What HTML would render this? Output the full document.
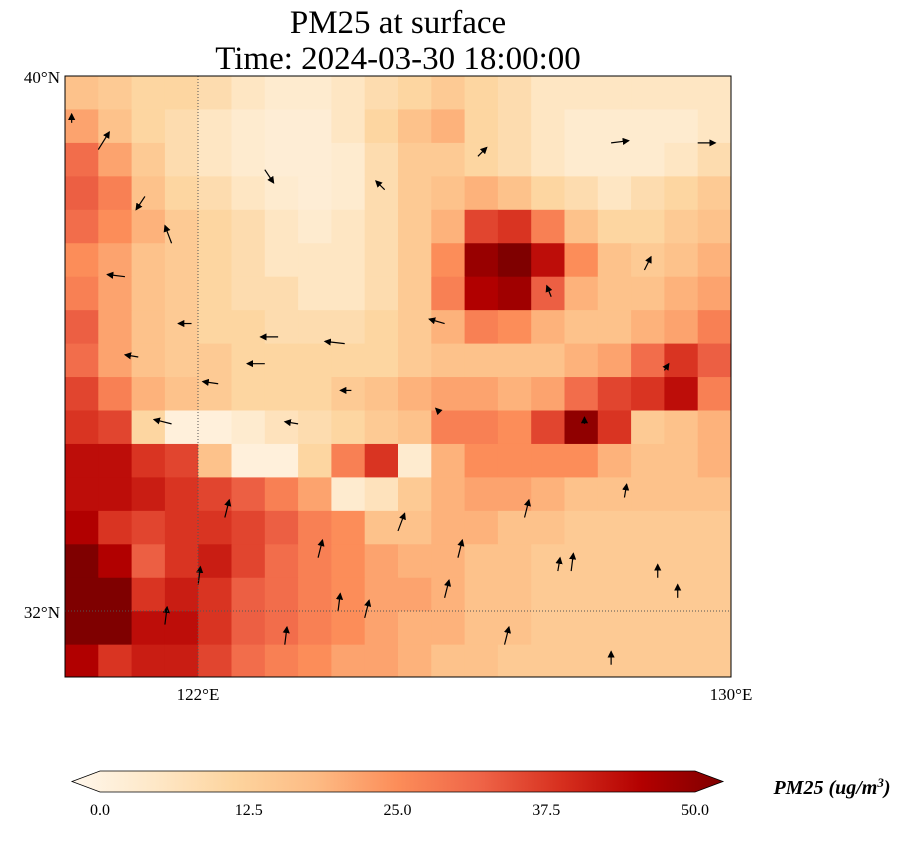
<!DOCTYPE html>
<html><head><meta charset="utf-8"><style>
body{margin:0;background:#fff;width:905px;height:836px;overflow:hidden;font-family:"Liberation Serif",serif}
</style></head><body>
<svg width="905" height="836" xmlns="http://www.w3.org/2000/svg">
<defs>
<linearGradient id="cg" x1="0" x2="1" y1="0" y2="0">
<stop offset="0" stop-color="#fff7ec"/><stop offset="0.125" stop-color="#fee8c8"/><stop offset="0.25" stop-color="#fdd49e"/><stop offset="0.375" stop-color="#fdbb84"/><stop offset="0.5" stop-color="#fc8d59"/><stop offset="0.625" stop-color="#ef6548"/><stop offset="0.75" stop-color="#d7301f"/><stop offset="0.875" stop-color="#b30000"/><stop offset="1" stop-color="#7f0000"/>
</linearGradient>
<clipPath id="mc"><rect x="65" y="76" width="666" height="601"/></clipPath>
<marker id="ah" markerWidth="6" markerHeight="6" refX="5" refY="3" orient="auto"><path d="M0,0 L6,3 L0,6 z" fill="#000"/></marker>
</defs>
<text x="398" y="33" font-size="33" text-anchor="middle">PM25 at surface</text>
<text x="398" y="69" font-size="33" text-anchor="middle">Time: 2024-03-30 18:00:00</text>
<g id="heat" clip-path="url(#mc)"></g>
<g id="arrows" clip-path="url(#mc)"></g>
<line x1="198" y1="76" x2="198" y2="677" stroke="#555" stroke-dasharray="1,2" stroke-width="1"/>
<line x1="65" y1="611" x2="731" y2="611" stroke="#555" stroke-dasharray="1,2" stroke-width="1"/>
<rect x="65" y="76" width="666" height="601" fill="none" stroke="#000" stroke-width="1"/>
<text x="60" y="83" font-size="17" text-anchor="end">40°N</text>
<text x="60" y="618" font-size="17" text-anchor="end">32°N</text>
<text x="198" y="700" font-size="17" text-anchor="middle">122°E</text>
<text x="731" y="700" font-size="17" text-anchor="middle">130°E</text>
<g>
<polygon points="100,771 695,771 723,781.5 695,792 100,792 72,781.5" fill="url(#cg)" stroke="#000" stroke-width="0.8"/>
</g>
<g id="cbticks"></g>
<text x="832" y="794" font-size="20" font-weight="bold" font-style="italic" text-anchor="middle">PM25 (ug/m<tspan baseline-shift="super" font-size="13">3</tspan>)</text>
</svg>
<script>
const lonStart = 120, lonStep = 0.5;
const latStart = 40, latStep = 0.5;
const pmRows = [
[17,15,12,12,10,7,5,5,7,10,12,15,12,10,7,7,7,7,7,7],
[22,17,12,10,7,5,4,4,7,12,17,20,12,10,7,5,5,5,5,7],
[30,22,15,10,7,5,4,4,5,10,15,15,12,10,7,5,5,5,7,10],
[32,27,17,12,10,7,5,4,5,10,15,17,20,17,12,10,7,10,12,15],
[30,25,20,15,12,10,7,5,7,10,15,20,35,37,27,17,12,12,15,17],
[25,22,17,15,12,10,7,7,7,10,15,25,47,50,42,25,17,15,17,20],
[27,22,17,15,12,10,10,7,7,10,15,27,44,46,32,20,17,17,20,22],
[32,22,17,15,12,12,10,10,10,12,15,20,27,25,20,17,17,20,22,27],
[30,22,17,15,15,12,12,12,12,12,15,17,17,17,17,20,22,30,37,32],
[35,27,20,17,15,12,12,12,15,17,20,22,22,20,22,30,35,37,42,27],
[37,35,12,3,3,5,8,10,12,15,17,27,27,25,35,48,37,15,17,20],
[42,42,37,35,17,3,3,12,27,37,5,20,25,25,25,25,20,17,17,20],
[42,42,40,37,35,32,27,22,5,8,15,20,22,22,20,17,17,17,17,17],
[44,37,35,37,37,35,32,27,25,17,17,20,20,17,17,15,15,15,15,15],
[50,44,32,37,40,35,30,27,25,22,20,20,17,17,15,15,15,15,15,15],
[50,50,37,40,37,32,30,27,25,22,22,20,17,17,15,15,15,15,15,15],
[50,50,42,42,37,32,30,27,25,22,20,20,17,17,15,15,15,15,15,15],
[44,37,40,40,35,30,27,25,22,22,20,17,17,15,15,15,15,15,15,15]
];
const windLon = [120.1,120.5,121.2,121.6,123.0,124.8,126.2,128.2,129.5,120.9,121.9,123.2,124.2,125.7,127.3,128.7,121.1,122.3,123.0,124.3,125.6,127.8,129.0,121.6,123.5,125.0,126.9,128.4,122.4,123.8,125.9,127.6,129.2,122.0,124.1,125.7,127.4,128.9,121.5,123.3,124.5,126.6,128.2];
const windLat = [39.3,38.9,38.2,37.5,38.6,38.3,38.8,39.0,39.0,37.0,36.3,36.1,36.0,36.3,36.7,37.1,35.8,35.4,35.7,35.3,35.0,34.8,35.6,34.8,34.8,33.2,33.4,33.7,33.4,32.8,32.8,32.6,32.2,32.4,32.0,32.2,32.6,32.5,31.8,31.5,31.9,31.5,31.2];
const windU = [0,0.5,-0.4,-0.3,0.4,-0.4,0.4,0.8,0.8,-0.8,-0.6,-0.8,-0.9,-0.7,-0.2,0.3,-0.6,-0.7,-0.8,-0.5,-0.1,0,0.2,-0.8,-0.6,0.3,0.2,0.1,0.2,0.2,0.2,0.1,0,0.1,0.1,0.2,0.1,0,0.1,0.1,0.2,0.2,0];
const windV = [0.4,0.8,-0.6,0.8,-0.6,0.4,0.4,0.1,0,0.1,0,0,0.1,0.2,0.5,0.6,0.1,0.1,0,0,0.1,0.3,0.3,0.2,0.1,0.8,0.8,0.6,0.8,0.8,0.8,0.8,0.6,0.8,0.8,0.8,0.6,0.6,0.8,0.8,0.8,0.8,0.6];
const cbTicks = [0,12.5,25,37.5,50];
const cbLabels = ["0.0","12.5","25.0","37.5","50.0"];

const X = lon => 65 + (lon - 120) * 66.6;
const Y = lat => 76 + (40 - lat) * 66.9;
const stops = ["#fff7ec","#fee8c8","#fdd49e","#fdbb84","#fc8d59","#ef6548","#d7301f","#b30000","#7f0000"].map(h=>[parseInt(h.slice(1,3),16),parseInt(h.slice(3,5),16),parseInt(h.slice(5,7),16)]);
function cmap(v){let t=Math.max(0,Math.min(1,v/50))*8;let i=Math.min(7,Math.floor(t)),f=t-i;const a=stops[i],b=stops[i+1];return `rgb(${a.map((c,k)=>Math.round(c+(b[k]-c)*f)).join(',')})`;}
const NS="http://www.w3.org/2000/svg";
const heat=document.getElementById('heat');
pmRows.forEach((row,r)=>row.forEach((v,c)=>{
  const lon0=lonStart+c*lonStep, lat0=latStart-r*latStep;
  const el=document.createElementNS(NS,'rect');
  el.setAttribute('x',X(lon0));el.setAttribute('y',Y(lat0));
  el.setAttribute('width',X(lon0+lonStep)-X(lon0)+0.6);el.setAttribute('height',Y(lat0-latStep)-Y(lat0)+0.6);
  el.setAttribute('fill',cmap(v));
  
  
  heat.appendChild(el);
}));
const ar=document.getElementById('arrows');
windLon.forEach((lo,i)=>{
  const x=X(lo),y=Y(windLat[i]),L=22;
  const el=document.createElementNS(NS,'line');
  el.setAttribute('x1',x);el.setAttribute('y1',y);
  el.setAttribute('x2',x+windU[i]*L);el.setAttribute('y2',y-windV[i]*L);
  el.setAttribute('stroke','#000');el.setAttribute('stroke-width','1.2');el.setAttribute('marker-end','url(#ah)');
  
  
  ar.appendChild(el);
});
const cb=document.getElementById('cbticks');
cbTicks.forEach((t,i)=>{
  const x=100+t/50*595;
  const tx=document.createElementNS(NS,'text');
  tx.setAttribute('x',x);tx.setAttribute('y',815);tx.setAttribute('font-size','16');tx.setAttribute('text-anchor','middle');
  tx.textContent=cbLabels[i];
  
  
  cb.appendChild(tx);
});
</script>
</body></html>
